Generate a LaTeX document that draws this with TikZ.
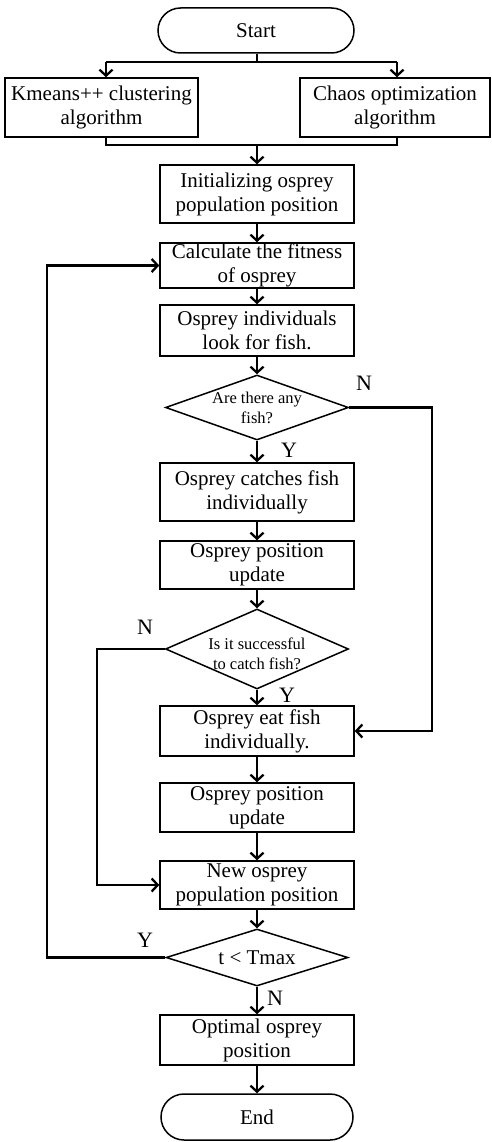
\documentclass[tikz,border=0pt]{standalone}
\usepackage{fontspec}
\setmainfont{Liberation Serif}
\usetikzlibrary{shapes.geometric,shapes.misc,arrows.meta}
\begin{document}
\begin{tikzpicture}[x=1pt,y=-1pt,
 box/.style={draw,line width=1.5pt,rectangle,minimum width=194pt,inner sep=0pt,align=center,font=\fontsize{21}{24}\selectfont},
 term/.style={draw,line width=1.5pt,rounded rectangle,minimum width=196pt,minimum height=45pt,inner sep=0pt,font=\fontsize{21}{24}\selectfont},
 dia/.style={draw,line width=1.5pt,diamond,inner sep=0pt},
 dtext/.style={align=center,inner sep=0pt,font=\fontsize{16.5}{20}\selectfont},
 yn/.style={inner sep=0pt,font=\fontsize{22}{24}\selectfont},
 conn/.style={line width=2.3pt},
 arr/.style={conn,-{Straight Barb[length=6pt,width=13pt]}}
]
\useasboundingbox (0,0) rectangle (491,1142);

\node[term] (start) at (256,30.5) {Start};
\node[box,minimum width=193pt,minimum height=59pt] (kmeans) at (101.5,107.5) {Kmeans++ clustering\\algorithm};
\node[box,minimum width=190pt,minimum height=59pt] (chaos) at (395,107.5) {Chaos optimization\\algorithm};
\node[box,minimum height=58pt] (init) at (257,194) {Initializing osprey\\population position};
\node[box,minimum height=45pt] (calc) at (257,265.5) {Calculate the fitness\\of osprey};
\node[box,minimum height=51pt] (look) at (257,330.5) {Osprey individuals\\look for fish.};
\node[dia,minimum width=183pt,minimum height=65pt] (d1) at (257,407.5) {};
\node[dtext] (d1t) at (257,408) {Are there any\\fish?};
\node[box,minimum height=58pt] (catch) at (257,492) {Osprey catches fish\\individually};
\node[box,minimum height=48pt] (upd1) at (257,565) {Osprey position\\update};
\node[dia,minimum width=183pt,minimum height=80pt] (d2) at (257,649) {};
\node[dtext] (d2t) at (257,654) {Is it successful\\to catch fish?};
\node[box,minimum height=50pt] (eat) at (257,731) {Osprey eat fish\\individually.};
\node[box,minimum height=49pt] (upd2) at (257,807.5) {Osprey position\\update};
\node[box,minimum height=48pt] (newp) at (257,885) {New osprey\\population position};
\node[dia,minimum width=182pt,minimum height=57pt] (d3) at (257,957.5) {};
\node[inner sep=0pt,font=\fontsize{21}{24}\selectfont] (d3t) at (257,957.5) {t < Tmax};
\node[box,minimum height=50pt] (opt) at (257,1040) {Optimal osprey\\position};
\node[term,minimum width=192pt,minimum height=46pt] (end) at (257,1117) {End};

% split after start
\coordinate (sL) at (106,62);
\coordinate (sR) at (397,62);
\coordinate (sM) at (257,62);
\draw[conn] (start.south -| sM) -- (sM);
\draw[conn] (sL) -- (sR);
\draw[arr] (sL) -- (sL |- kmeans.north);
\draw[arr] (sR) -- (sR |- chaos.north);

% merge
\coordinate (mL) at (106,145);
\coordinate (mR) at (397,145);
\coordinate (mM) at (257,145);
\draw[conn] (mL |- kmeans.south) -- (mL) -- (mR) -- (mR |- chaos.south);
\draw[arr] (mM) -- (init.north);

\draw[arr] (init) -- (calc);
\draw[arr] (calc) -- (look);
\draw[arr] (look) -- (d1.north);
\draw[arr] (d1.south) -- (catch);
\draw[arr] (catch) -- (upd1);
\draw[arr] (upd1) -- (d2.north);
\draw[arr] (d2.south) -- (eat);
\draw[arr] (eat) -- (upd2);
\draw[arr] (upd2) -- (newp);
\draw[arr] (newp) -- (d3.north);
\draw[arr] (d3.south) -- (opt);
\draw[arr] (opt) -- (end);

% branches
\coordinate (r1) at (432,407.5);
\draw[arr] (d1.east) -- (r1) -- (r1 |- eat.east) -- (eat.east);
\coordinate (l2) at (97,649);
\draw[arr] (d2.west) -- (l2) -- (l2 |- newp.west) -- (newp.west);
\coordinate (l3) at (47,957.5);
\draw[arr] (d3.west) -- (l3) -- (l3 |- calc.west) -- (calc.west);

% labels
\node[yn] (n1) at (364,383) {N};
\node[yn] (y1) at (289,450) {Y};
\node[yn] (n2) at (145,627) {N};
\node[yn] (y2) at (287,695) {Y};
\node[yn] (y3) at (145,940) {Y};
\node[yn] (n3) at (275,998) {N};
\end{tikzpicture}
\end{document}
